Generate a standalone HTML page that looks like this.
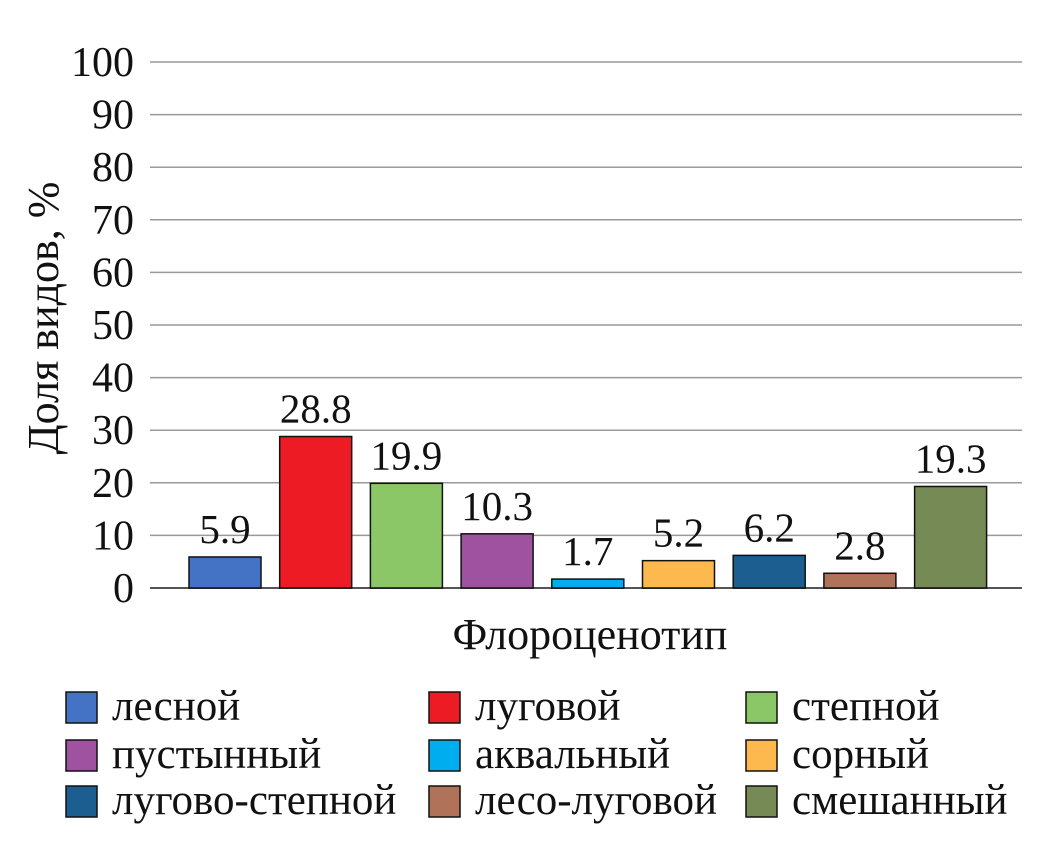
<!DOCTYPE html>
<html><head><meta charset="utf-8"><style>
body{margin:0;background:#fff;}
svg text{font-family:"Liberation Serif","DejaVu Serif",serif;fill:#111;}
</style></head><body>
<svg id="chart" width="1057" height="845" xmlns="http://www.w3.org/2000/svg">
<g id="grid"></g>
<g id="yticks"></g>
<g id="bars"></g>
<g id="labels"></g>
<text x="590" y="649" font-size="44" text-anchor="middle">Флороценотип</text>
<text transform="translate(58,318) rotate(-90)" font-size="44" text-anchor="middle">Доля видов, %</text>
<g id="legend"></g>
</svg>
<script>
const categories=["лесной","луговой","степной","пустынный","аквальный","сорный","лугово-степной","лесо-луговой","смешанный"];
const values=[5.9,28.8,19.9,10.3,1.7,5.2,6.2,2.8,19.3];
const labels=["5.9","28.8","19.9","10.3","1.7","5.2","6.2","2.8","19.3"];
const colors=["#4472C4","#ED1C24","#8BC766","#9E52A0","#00AEEF","#FDB94E","#1B5E8F","#B0735A","#758A55"];
const yTicks=[0,10,20,30,40,50,60,70,80,90,100];
const NS="http://www.w3.org/2000/svg";
const y0=588,y1=62,xL=150,xR=1022;
function yScale(v){return y0-(v/100)*(y0-y1);}
function xCenter(i){return 225+i*90.7;}
function mk(tag,attrs,parent){const e=document.createElementNS(NS,tag);for(const k in attrs)e.setAttribute(k,attrs[k]);document.getElementById(parent)?document.getElementById(parent).appendChild(e):parent.appendChild(e);return e;}
yTicks.forEach(t=>{
  const l=mk('line',{x1:xL,x2:xR,y1:yScale(t),y2:yScale(t),stroke:t===0?'#555':'#999','stroke-width':t===0?2:1.5},'grid');
  
  
  const tx=mk('text',{x:134,y:yScale(t)+14,'font-size':42,'text-anchor':'end'},'yticks');
  tx.textContent=t;
  
  
});
values.forEach((v,i)=>{
  const w=72,cx=xCenter(i);
  const r=mk('rect',{x:cx-w/2,y:yScale(v),width:w,height:y0-yScale(v),fill:colors[i],stroke:'#111','stroke-width':1.5},'bars');
  
  
  const t=mk('text',{x:cx,y:yScale(v)-14,'font-size':41,'text-anchor':'middle'},'labels');
  t.textContent=labels[i];
  
  
});
const lx=[66,429,746],ly=[707,755,801];
categories.forEach((c,i)=>{
  const col=i%3,row=Math.floor(i/3);
  const g=mk('g',{},'legend');
  
  
  mk('rect',{x:lx[col],y:ly[row]-15,width:31,height:31,fill:colors[i],stroke:'#111','stroke-width':1.5},g);
  const t=mk('text',{x:lx[col]+46,y:ly[row]+13,'font-size':43},g);
  t.textContent=c;
});
</script>
</body></html>
